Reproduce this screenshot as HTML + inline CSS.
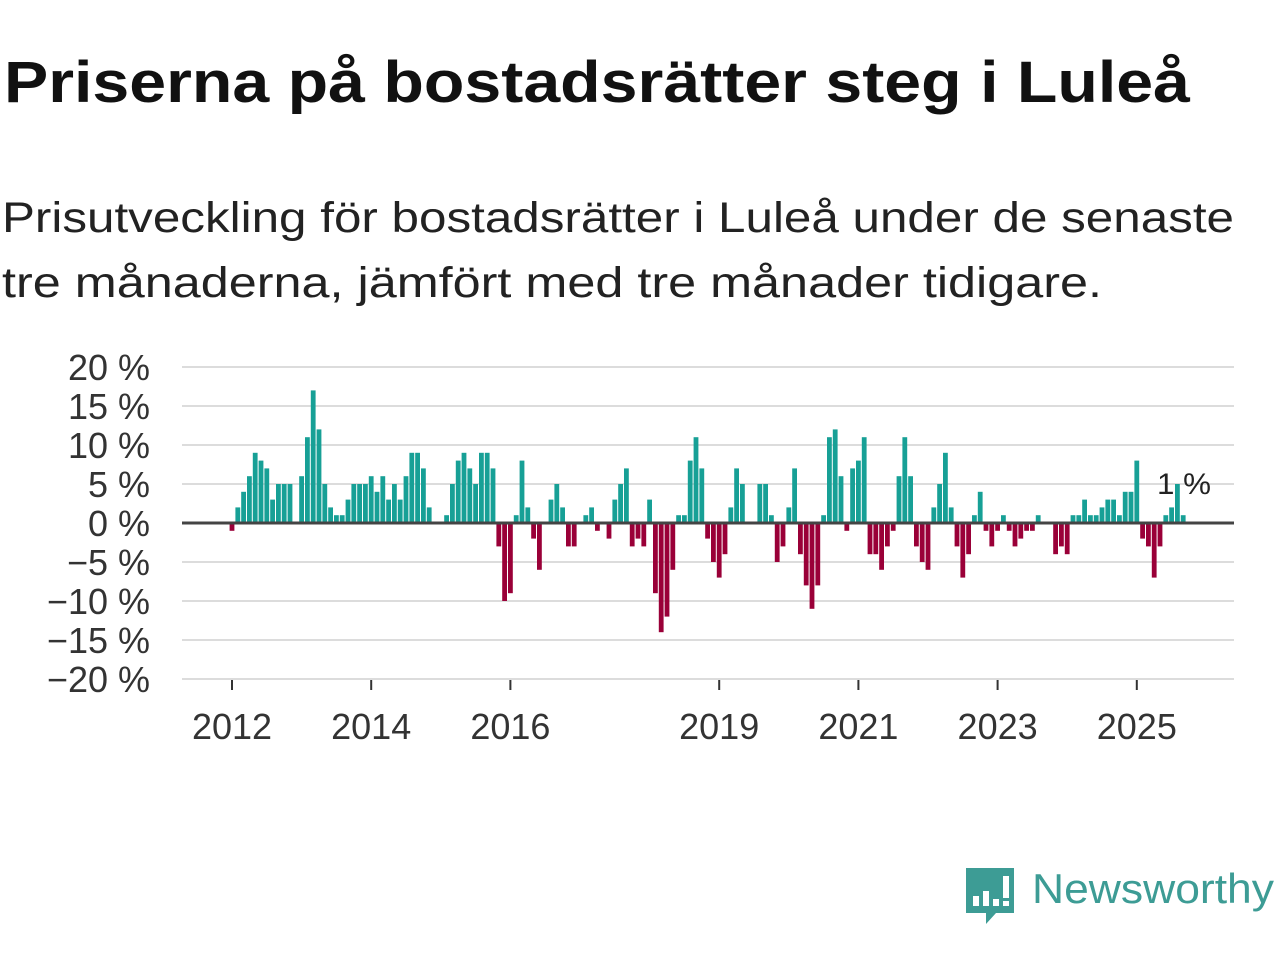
<!DOCTYPE html>
<html><head><meta charset="utf-8"><style>
body{margin:0;background:#fff;width:1280px;height:960px;overflow:hidden}
svg{display:block;font-family:"Liberation Sans","DejaVu Sans",sans-serif}
</style></head><body>
<svg id="chart" width="1280" height="960" viewBox="0 0 1280 960">
<text x="4" y="102" font-size="58" font-weight="bold" fill="#111" textLength="1186" lengthAdjust="spacingAndGlyphs">Priserna på bostadsrätter steg i Luleå</text>
<text x="2" y="232" font-size="43" fill="#222" textLength="1232" lengthAdjust="spacingAndGlyphs">Prisutveckling för bostadsrätter i Luleå under de senaste</text>
<text x="2" y="297" font-size="43" fill="#222" textLength="1100" lengthAdjust="spacingAndGlyphs">tre månaderna, jämfört med tre månader tidigare.</text>
<g id="grid"></g><g id="bars"></g><g id="axes"></g>
<text x="1157" y="494" font-size="30" fill="#222" textLength="54" lengthAdjust="spacingAndGlyphs">1 %</text>
<g>
<path d="M966 868h48v45h-18l-10 11v-11h-20z" fill="#3d9c95"/>
<rect x="973" y="896" width="6" height="10" fill="#fff"/><rect x="983" y="891" width="6" height="15" fill="#fff"/><rect x="993" y="899" width="6" height="7" fill="#fff"/><rect x="1003" y="876" width="6" height="22" fill="#fff"/><rect x="1003" y="901" width="6" height="5" fill="#fff"/>
<text x="1032" y="903" font-size="42" fill="#3d9c95" textLength="242" lengthAdjust="spacingAndGlyphs">Newsworthy</text>
</g>
</svg>
<script>
const startYear = 2012;
const values = [-1,2,4,6,9,8,7,3,5,5,5,0,6,11,17,12,5,2,1,1,3,5,5,5,6,4,6,3,5,3,6,9,9,7,2,0,0,1,5,8,9,7,5,9,9,7,-3,-10,-9,1,8,2,-2,-6,0,3,5,2,-3,-3,0,1,2,-1,0,-2,3,5,7,-3,-2,-3,3,-9,-14,-12,-6,1,1,8,11,7,-2,-5,-7,-4,2,7,5,0,0,5,5,1,-5,-3,2,7,-4,-8,-11,-8,1,11,12,6,-1,7,8,11,-4,-4,-6,-3,-1,6,11,6,-3,-5,-6,2,5,9,2,-3,-7,-4,1,4,-1,-3,-1,1,-1,-3,-2,-1,-1,1,0,0,-4,-3,-4,1,1,3,1,1,2,3,3,1,4,4,8,-2,-3,-7,-3,1,2,5,1];
const yTicks = [20,15,10,5,0,-5,-10,-15,-20];
const xYears = [2012,2014,2016,2019,2021,2023,2025];
const NS='http://www.w3.org/2000/svg';
const x0=182,x1=1234,y0=523,pxPer=7.8,pxMonth=5.8,xStart=232;
const y=v=>y0-v*pxPer;
const xm=i=>xStart+i*pxMonth;
const xy=yr=>xStart+(yr-startYear)*12*pxMonth;
function mk(t,a,p){const e=document.createElementNS(NS,t);for(const k in a)e.setAttribute(k,a[k]);p.appendChild(e);return e;}
const grid=document.getElementById('grid'),bars=document.getElementById('bars'),axes=document.getElementById('axes');
yTicks.forEach(v=>{
 if(v!==0){const l=mk('line',{x1:x0,x2:x1,y1:y(v),y2:y(v),stroke:'#dcdcdc','stroke-width':2},grid);
 
 }
 const t=mk('text',{x:150,y:y(v)+13,'text-anchor':'end','font-size':36,fill:'#333'},axes);
 t.textContent=(v<0?'\u2212'+(-v):v)+' %';
 
 
});
values.forEach((v,i)=>{
 if(v===0)return;
 const r=mk('rect',{x:xm(i)-2.4,width:4.8,y:Math.min(y(v),y0),height:Math.abs(y(v)-y0),fill:v>0?'#17a096':'#9a0038'},bars);
 
 
});
const zl=mk('line',{x1:x0,x2:x1,y1:y0,y2:y0,stroke:'#444','stroke-width':3},axes);


xYears.forEach(yr=>{
 const tk=mk('line',{x1:xy(yr),x2:xy(yr),y1:680,y2:690,stroke:'#333','stroke-width':2},axes);
 
 
 const t=mk('text',{x:xy(yr),y:739,'text-anchor':'middle','font-size':36,fill:'#333'},axes);
 t.textContent=yr;
 
 
});
</script>
</body></html>
